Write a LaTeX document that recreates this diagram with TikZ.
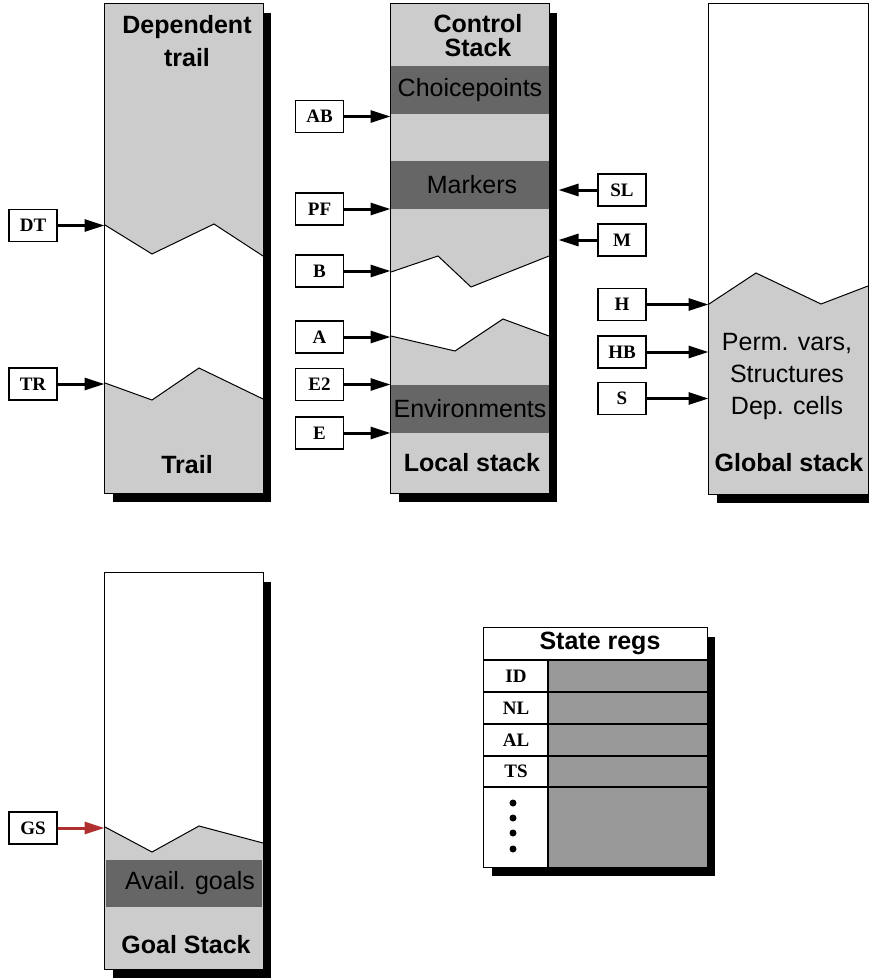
\documentclass[tikz,border=0pt]{standalone}
\usepackage{fontspec}
\setmainfont{Liberation Serif}
\setsansfont{Liberation Sans}
\usetikzlibrary{arrows.meta,shadows}
\newcommand\headfont{\sffamily\bfseries\fontsize{25}{24}\selectfont}
\newcommand\bodyfont{\sffamily\fontsize{25}{32}\selectfont}
\newcommand\regfont{\rmfamily\bfseries\fontsize{19}{19}\selectfont}
\definecolor{lightfill}{HTML}{CCCCCC}
\definecolor{bandfill}{HTML}{666666}
\definecolor{regfill}{HTML}{999999}
\definecolor{gsred}{HTML}{B03030}
\begin{document}
\begin{tikzpicture}[x=1pt,y=-1pt,
  stack/.style={rectangle, inner sep=0pt, line width=1pt,
    general shadow={fill=black, shadow xshift=8pt, shadow yshift=-9pt}},
  regbox/.style={draw, line width=1.3pt, fill=white, minimum width=48pt,
    minimum height=32pt, inner sep=0pt, font=\regfont},
  ptr/.style={line width=3pt, -{Triangle[length=20pt,width=12pt]}},
  zig/.style={line width=1pt, line join=miter},
  frame/.style={line width=1pt},
  head/.style={font=\headfont, align=center, inner sep=0pt},
  body/.style={font=\bodyfont, align=center, inner sep=0pt},
]
\useasboundingbox (0,0) rectangle (869,978);

% ---------- Dependent trail / Trail ----------
\node[stack, fill=lightfill, minimum width=158pt, minimum height=489pt] (dtrail) at (184,248.5) {};
\fill[white] (105,225) -- (152,254) -- (214,224) -- (263,256) -- (263,399)
  -- (199,368) -- (152,400) -- (105,383) -- cycle;
\draw[zig] (105,225) -- (152,254) -- (214,224) -- (263,256);
\draw[zig] (105,383) -- (152,400) -- (199,368) -- (263,399);
\draw[frame] (dtrail.south west) rectangle (dtrail.north east);
\node[head, font=\sffamily\bfseries\fontsize{25}{33}\selectfont] at (187,41.5) {Dependent\\trail};
\node[head] at (187,465) {Trail};

% ---------- Control stack / Local stack ----------
\node[stack, fill=lightfill, minimum width=158pt, minimum height=489pt] (cstack) at (470,248.5) {};
\fill[bandfill] (391,66) rectangle (549,114);
\fill[bandfill] (391,161) rectangle (549,209);
\fill[bandfill] (391,385) rectangle (549,433);
\fill[white] (391,272) -- (438,256) -- (471,287) -- (549,256) -- (549,336)
  -- (503,319) -- (455,351) -- (391,336) -- cycle;
\draw[zig] (391,272) -- (438,256) -- (471,287) -- (549,256);
\draw[zig] (391,336) -- (455,351) -- (503,319) -- (549,336);
\draw[frame] (cstack.south west) rectangle (cstack.north east);
\node[head] at (478,36) {Control\\Stack};
\node[body] at (470,90) {Choicepoints};
\node[body] at (472,185) {Markers};
\node[body] at (470,409) {Environments};
\node[head] at (472,463) {Local stack};

% ---------- Global stack ----------
\node[stack, fill=white, minimum width=159pt, minimum height=490pt] (gstack) at (788.5,249) {};
\fill[lightfill] (709,304) -- (756,273) -- (821,304) -- (868,286) -- (868,494)
  -- (709,494) -- cycle;
\draw[zig] (709,304) -- (756,273) -- (821,304) -- (868,286);
\draw[frame] (gstack.south west) rectangle (gstack.north east);
\node[body] at (787,376) {Perm. vars,\\Structures\\Dep. cells};
\node[head] at (789,463) {Global stack};

% ---------- Goal stack ----------
\node[stack, fill=white, minimum width=158pt, minimum height=396pt] (goals) at (184,771) {};
\fill[lightfill] (105,827) -- (152,852) -- (199,826) -- (263,843) -- (263,969)
  -- (105,969) -- cycle;
\fill[bandfill] (106,860) rectangle (262,907);
\draw[zig] (105,827) -- (152,852) -- (199,826) -- (263,843);
\draw[frame] (goals.south west) rectangle (goals.north east);
\node[body] at (190,883) {Avail. goals};
\node[head] at (186,945) {Goal Stack};

% ---------- State registers ----------
\node[stack, fill=white, minimum width=223pt, minimum height=239pt] (sregs) at (595.5,747.5) {};
\fill[regfill] (548,660) rectangle (707,867);
\draw[line width=1.3pt] (484,660) -- (707,660);
\draw[line width=1.3pt] (484,692) -- (707,692);
\draw[line width=1.3pt] (484,724) -- (707,724);
\draw[line width=1.3pt] (484,756) -- (707,756);
\draw[line width=1.3pt] (484,787) -- (707,787);
\draw[line width=1.3pt] (548,660) -- (548,867);
\draw[line width=1.3pt] (sregs.south west) rectangle (sregs.north east);
\node[head] at (600,643) {State regs};
\node[font=\regfont] (rid) at (516,676) {ID};
\node[font=\regfont] (rnl) at (516,708) {NL};
\node[font=\regfont] (ral) at (516,740) {AL};
\node[font=\regfont] (rts) at (516,771) {TS};
\foreach \yy in {803,818,833,849} \fill (513,\yy) circle (3.5pt);

% ---------- Register boxes and pointers ----------
\node[regbox] (DT) at (33,225.5) {DT};
\node[regbox] (TR) at (33,384) {TR};
\draw[ptr] (DT) -- (DT -| dtrail.west);
\draw[ptr] (TR) -- (TR -| dtrail.west);

\node[regbox] (AB) at (319.5,116.5) {AB};
\node[regbox] (PF) at (319.5,209) {PF};
\node[regbox] (B) at (319.5,271) {B};
\node[regbox] (A) at (319.5,337) {A};
\node[regbox] (E2) at (319.5,384.5) {E2};
\node[regbox] (E) at (319.5,433) {E};
\foreach \r in {AB,PF,B,A,E2,E} \draw[ptr] (\r) -- (\r -| cstack.west);

\node[regbox] (SL) at (622,190) {SL};
\node[regbox] (M) at (622,240) {M};
\coordinate (cedge) at ([xshift=9pt]cstack.east);
\draw[ptr] (SL) -- (SL -| cedge);
\draw[ptr] (M) -- (M -| cedge);

\node[regbox] (H) at (622,304.5) {H};
\node[regbox] (HB) at (622,352) {HB};
\node[regbox] (S) at (622,398.5) {S};
\foreach \r in {H,HB,S} \draw[ptr] (\r) -- (\r -| gstack.west);

\node[regbox] (GS) at (33,828) {GS};
\draw[ptr, gsred] (GS) -- (GS -| goals.west);
\end{tikzpicture}
\end{document}
